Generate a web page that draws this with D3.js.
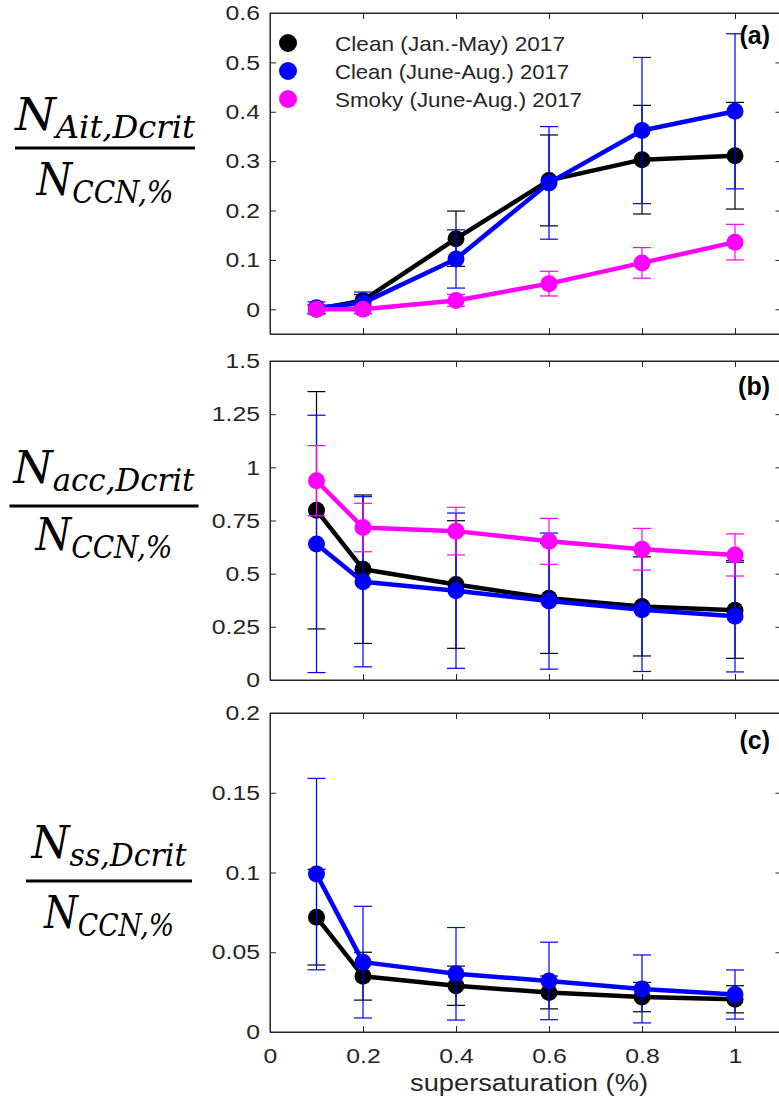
<!DOCTYPE html>
<html>
<head>
<meta charset="utf-8">
<script src="https://cdn.jsdelivr.net/npm/d3@7"></script>
<style>
  body { margin: 0; background: #fff; }
  svg { display: block; }
</style>
</head>
<body>
<svg id="chart" width="779" height="1109"></svg>
<script>
// supersaturation levels (%)
var ssLevels = [0.1, 0.2, 0.4, 0.6, 0.8, 1.0];
var xTicks = [0, 0.2, 0.4, 0.6, 0.8, 1];

var seriesNames = ["Clean (Jan.-May) 2017", "Clean (June-Aug.) 2017", "Smoky (June-Aug.) 2017"];
var seriesColors = ["#000000", "#0000ff", "#ff00ff"];

// (a) Aitken mode
var aitClean1 = [0.0, 0.018, 0.143, 0.261, 0.303, 0.311];
var aitClean1Err = [0.009, 0.012, 0.056, 0.092, 0.110, 0.108];
var aitClean2 = [0.003, 0.013, 0.102, 0.256, 0.362, 0.401];
var aitClean2Err = [0.012, 0.022, 0.059, 0.114, 0.148, 0.157];
var aitSmoky = [0.0, 0.0, 0.018, 0.052, 0.094, 0.136];
var aitSmokyErr = [0.008, 0.008, 0.012, 0.025, 0.031, 0.036];

// (b) accumulation mode
var accClean1 = [0.798, 0.521, 0.449, 0.384, 0.346, 0.328];
var accClean1Err = [0.558, 0.349, 0.300, 0.259, 0.233, 0.226];
var accClean2 = [0.640, 0.462, 0.420, 0.371, 0.330, 0.300];
var accClean2Err = [0.605, 0.400, 0.365, 0.320, 0.290, 0.262];
var accSmoky = [0.937, 0.717, 0.700, 0.652, 0.615, 0.588];
var accSmokyErr = [0.165, 0.114, 0.112, 0.108, 0.098, 0.099];

// (c) sea salt
var ssClean1 = [0.072, 0.035, 0.029, 0.0248, 0.0219, 0.0205];
var ssClean1Err = [0.030, 0.015, 0.0123, 0.0103, 0.0092, 0.0085];
var ssClean2 = [0.099, 0.0438, 0.0365, 0.032, 0.027, 0.0235];
var ssClean2Err = [0.060, 0.035, 0.029, 0.0243, 0.0213, 0.0154];

var aTicks = [0, 0.1, 0.2, 0.3, 0.4, 0.5, 0.6];
var bTicks = [0, 0.25, 0.5, 0.75, 1, 1.25, 1.5];
var cTicks = [0, 0.05, 0.1, 0.15, 0.2];

var axisColor = "#262626";
var sans = "'Liberation Sans', Arial, Helvetica, sans-serif";
var serif = "'DejaVu Serif', 'Liberation Serif', serif";
var stretch = 1.18;

var svg = d3.select("#chart");

var x = d3.scaleLinear().domain([0, 1.1]).range([270, 781.5]);

var panels = [
    {top: 13, bottom: 334, domain: [-0.05, 0.6], ticks: aTicks, tag: "(a)", tagY: 44,
     series: [[aitClean1, aitClean1Err], [aitClean2, aitClean2Err], [aitSmoky, aitSmokyErr]],
     label: {sub: "Ait,Dcrit", cx: 105, num: 130, bar: 148, den: 195, numW: 180, denW: 137, barW: 180}},
    {top: 361, bottom: 680, domain: [0, 1.5], ticks: bTicks, tag: "(b)", tagY: 395,
     series: [[accClean1, accClean1Err], [accClean2, accClean2Err], [accSmoky, accSmokyErr]],
     label: {sub: "acc,Dcrit", cx: 104, num: 483, bar: 506, den: 550, numW: 181, denW: 137, barW: 189}},
    {top: 713, bottom: 1032, domain: [0, 0.2], ticks: cTicks, tag: "(c)", tagY: 749,
     series: [[ssClean1, ssClean1Err], [ssClean2, ssClean2Err]],
     label: {sub: "ss,Dcrit", cx: 109, num: 858, bar: 881, den: 928, numW: 155, denW: 130, barW: 166}}
];

var fmt = d => d3.format("~g")(d);

var drawPanel = (p, i) => {
    var y = d3.scaleLinear().domain(p.domain).range([p.bottom, p.top]);
    var g = svg.append("g");
    var last = i === panels.length - 1;

    // axes, ticks point inward like matlab
    var styleAxis = a => a
        .call(a => a.select(".domain").attr("stroke", axisColor))
        .call(a => a.selectAll(".tick line").attr("stroke", axisColor))
        .call(a => a.selectAll("text").attr("fill", axisColor)
            .style("font", "21px " + sans));

    g.append("g")
        .attr("transform", `translate(0,${p.bottom})`)
        .call(d3.axisBottom(x).tickValues(xTicks).tickSize(-6).tickSizeOuter(0)
            .tickFormat(last ? fmt : ""))
        .call(styleAxis)
        .call(a => a.selectAll("text").attr("y", 16).attr("dy", "0.71em")
            .attr("transform", `scale(${stretch},1)`));

    g.append("g")
        .attr("transform", `translate(0,${p.top})`)
        .call(d3.axisTop(x).tickValues(xTicks).tickSize(-6).tickSizeOuter(0).tickFormat(""))
        .call(styleAxis);

    g.append("g")
        .attr("transform", `translate(${x.range()[0]},0)`)
        .call(d3.axisLeft(y).tickValues(p.ticks).tickSize(-6).tickSizeOuter(0).tickFormat(fmt))
        .call(styleAxis)
        .call(a => a.selectAll("text").attr("x", -10 / stretch)
            .attr("transform", `scale(${stretch},1)`));

    g.append("g")
        .attr("transform", `translate(${x.range()[1]},0)`)
        .call(d3.axisRight(y).tickValues(p.ticks).tickSize(-6).tickSizeOuter(0).tickFormat(""))
        .call(styleAxis);

    // full box
    g.append("rect")
        .attr("x", x.range()[0]).attr("y", p.top)
        .attr("width", x.range()[1] - x.range()[0]).attr("height", p.bottom - p.top)
        .attr("fill", "none").attr("stroke", axisColor).attr("stroke-width", 1);

    var line = d3.line()
        .x((d, k) => x(ssLevels[k]))
        .y(d => y(d));

    p.series.forEach(([vals, errs], s) => {
        var col = seriesColors[s];
        var sg = g.append("g");
        var pts = vals.map((v, k) => ({x: ssLevels[k], v: v, e: errs[k]}));

        var bars = sg.selectAll(".eb").data(pts).join("g").attr("class", "eb")
            .attr("stroke", col).attr("stroke-width", 1.2);
        bars.append("line")
            .attr("x1", d => x(d.x)).attr("x2", d => x(d.x))
            .attr("y1", d => y(d.v - d.e)).attr("y2", d => y(d.v + d.e));
        bars.append("line")
            .attr("x1", d => x(d.x) - 9).attr("x2", d => x(d.x) + 9)
            .attr("y1", d => y(d.v + d.e)).attr("y2", d => y(d.v + d.e));
        bars.append("line")
            .attr("x1", d => x(d.x) - 9).attr("x2", d => x(d.x) + 9)
            .attr("y1", d => y(d.v - d.e)).attr("y2", d => y(d.v - d.e));

        sg.append("path")
            .attr("d", line(vals))
            .attr("fill", "none").attr("stroke", col).attr("stroke-width", 4.5)
            .attr("stroke-linejoin", "round");

        sg.selectAll("circle").data(pts).join("circle")
            .attr("cx", d => x(d.x)).attr("cy", d => y(d.v)).attr("r", 8.5)
            .attr("fill", col);
    });

    // panel tag
    g.append("text")
        .attr("x", 770).attr("y", p.tagY)
        .attr("text-anchor", "end")
        .attr("fill", "#000")
        .style("font", "bold 25px " + sans)
        .text(p.tag);

    // fraction-style y label
    var L = p.label;
    var num = svg.append("text")
        .attr("x", L.cx).attr("y", L.num)
        .attr("text-anchor", "middle")
        .attr("textLength", L.numW).attr("lengthAdjust", "spacingAndGlyphs")
        .style("font", "italic 45px " + serif);
    num.append("tspan").text("N");
    num.append("tspan").attr("dy", 8).style("font-size", "31px").text(L.sub);

    svg.append("rect")
        .attr("x", L.cx - L.barW / 2).attr("y", L.bar - 1.5)
        .attr("width", L.barW).attr("height", 3).attr("fill", "#000");

    var den = svg.append("text")
        .attr("x", L.cx).attr("y", L.den)
        .attr("text-anchor", "middle")
        .attr("textLength", L.denW).attr("lengthAdjust", "spacingAndGlyphs")
        .style("font", "italic 45px " + serif);
    den.append("tspan").text("N");
    den.append("tspan").attr("dy", 8).style("font-size", "31px").text("CCN,%");
};

panels.forEach(drawPanel);

// x label
svg.append("text")
    .attr("x", 529).attr("y", 1091)
    .attr("text-anchor", "middle")
    .attr("textLength", 238).attr("lengthAdjust", "spacingAndGlyphs")
    .attr("fill", axisColor)
    .style("font", "23px " + sans)
    .text("supersaturation (%)");

// legend (panel a)
var legW = [230, 234, 247];
var leg = svg.append("g");
seriesNames.forEach((name, k) => {
    var ly = 43 + k * 28;
    leg.append("circle").attr("cx", 288).attr("cy", ly).attr("r", 9).attr("fill", seriesColors[k]);
    leg.append("text")
        .attr("x", 335).attr("y", ly).attr("dy", "0.36em")
        .attr("textLength", legW[k]).attr("lengthAdjust", "spacingAndGlyphs")
        .attr("fill", axisColor)
        .style("font", "21px " + sans)
        .text(name);
});
</script>
</body>
</html>
